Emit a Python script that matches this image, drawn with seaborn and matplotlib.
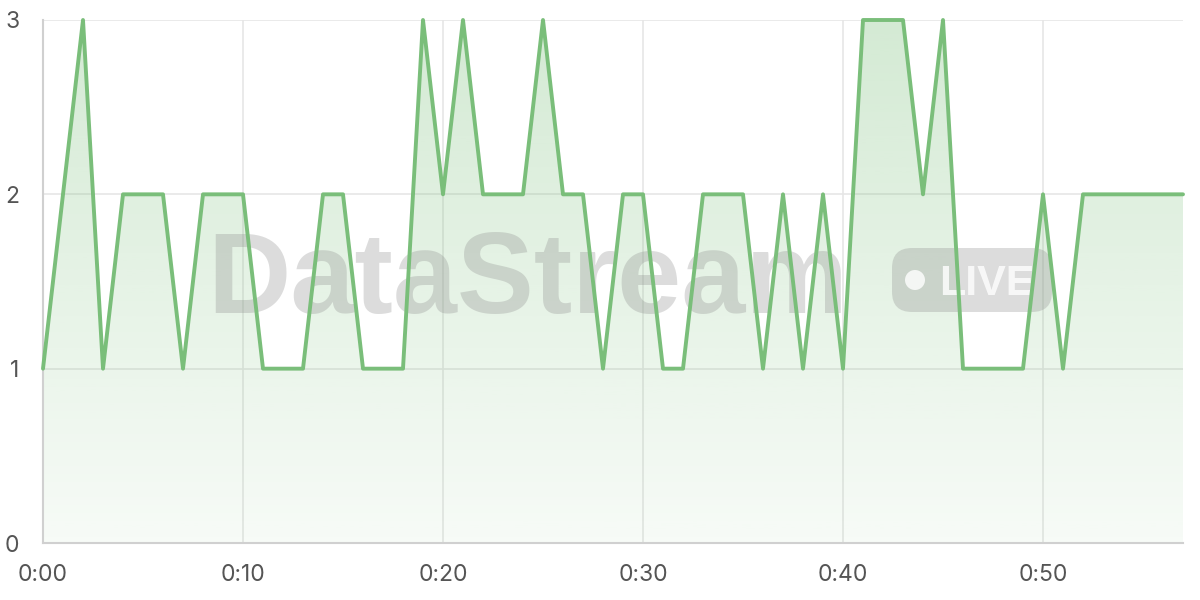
import numpy as np
import pandas as pd
import matplotlib
matplotlib.use("Agg")
import matplotlib.pyplot as plt
import seaborn as sns
from matplotlib.patches import FancyBboxPatch, Circle
from matplotlib.colors import LinearSegmentedColormap
from matplotlib.transforms import IdentityTransform

# ---- data ----
minutes = list(range(0, 58))
values = [1, 2, 3, 1, 2, 2, 2, 1, 2, 2,
          2, 1, 1, 1, 2, 2, 1, 1, 1, 3,
          2, 3, 2, 2, 2, 3, 2, 2, 1, 2,
          2, 1, 1, 2, 2, 2, 1, 2, 1, 2,
          1, 3, 3, 3, 2, 3, 1, 1, 1, 1,
          2, 1, 2, 2, 2, 2, 2, 2]
x_ticks = [0, 10, 20, 30, 40, 50]
x_tick_labels = ["0:00", "0:10", "0:20", "0:30", "0:40", "0:50"]
y_ticks = [0, 1, 2, 3]
watermark = "DataStream"
badge = "LIVE"

df = pd.DataFrame({"minute": minutes, "value": values})

sns.set_theme(style="white")
plt.rcParams["font.family"] = ["Inter", "DejaVu Sans"]

W, H = 1200, 600
fig = plt.figure(figsize=(12, 6), dpi=100)
ax = fig.add_axes([43 / W, 57 / H, (1183 - 43) / W, (543 - 20) / H])
ax.set_xlim(0, 57)
ax.set_ylim(0, 3)

green = (120 / 255, 190 / 255, 120 / 255)

# gradient fill
poly = ax.fill_between(df["minute"], df["value"], 0, color="none", lw=0, zorder=1)
grad = np.linspace(0, 1, 256).reshape(-1, 1)
cmap = LinearSegmentedColormap.from_list(
    "g", [(*green, 0.06), (*green, 0.32)])
im = ax.imshow(grad, extent=[0, 57, 0, 3], origin="lower", aspect="auto",
               cmap=cmap, zorder=1)
clip = poly.get_paths()[0]
im.set_clip_path(clip, transform=ax.transData)

# grid
ax.grid(True, color="#e6e6e6", lw=1.2, zorder=0)
ax.set_axisbelow(True)

# watermark
wm_gray = (0.55, 0.55, 0.55)
ident = IdentityTransform()
ax.text(207 / W, 1 - 313 / H, watermark, transform=fig.transFigure,
        family="Liberation Sans", fontweight="bold", fontsize=83,
        color=wm_gray, alpha=0.3, ha="left", va="baseline", zorder=2)
box = FancyBboxPatch((892, H - 312), 160, 64,
                     boxstyle="round,pad=0,rounding_size=20",
                     transform=ident, facecolor=wm_gray, alpha=0.3,
                     edgecolor="none", zorder=2)
ax.add_artist(box)
ax.add_artist(Circle((915, H - 280), 10, transform=ident,
                     facecolor="white", edgecolor="none", alpha=0.8, zorder=2))
ax.text(939 / W, 1 - 295 / H, badge, transform=fig.transFigure,
        family="Liberation Sans", fontweight="bold", fontsize=31, color="white",
        alpha=0.8, ha="left", va="baseline", zorder=2)

# line
sns.lineplot(data=df, x="minute", y="value", ax=ax, color=(122/255, 190/255, 122/255),
             lw=2.8, zorder=3, clip_on=False)

ax.set_xticks(x_ticks)
ax.set_xticklabels(x_tick_labels)
ax.set_yticks(y_ticks)
ax.set_xlabel("")
ax.set_ylabel("")
ax.tick_params(axis="both", colors="#dcdcdc", labelcolor="#555555",
               labelsize=16.5, width=1.2, direction="out")
ax.tick_params(axis="x", pad=8, length=7)
ax.tick_params(axis="y", pad=6, length=11)
for s in ["top", "right"]:
    ax.spines[s].set_visible(False)
for s in ["left", "bottom"]:
    ax.spines[s].set_color("#d0d0d0")
    ax.spines[s].set_linewidth(1.5)

fig.savefig("out.png", dpi=100)
